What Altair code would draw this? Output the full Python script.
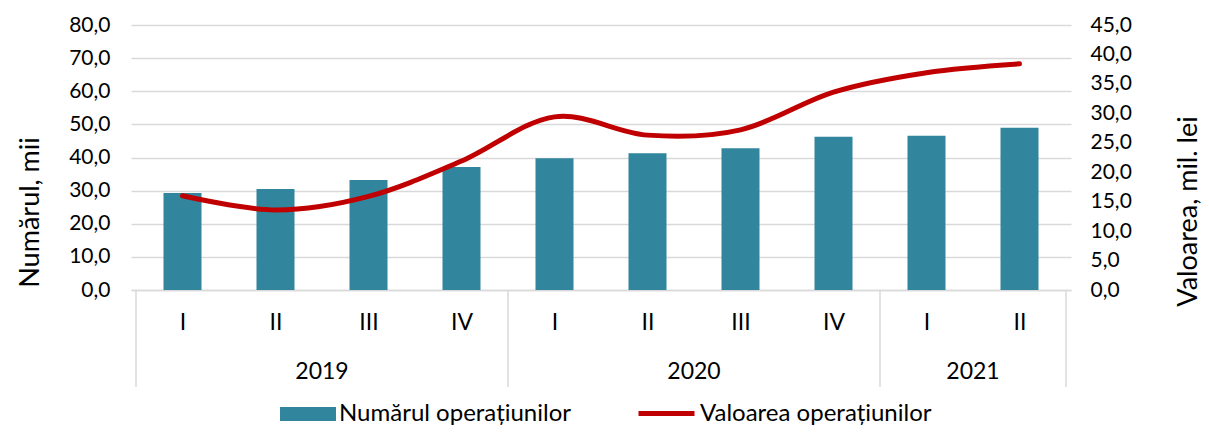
import altair as alt
import pandas as pd

quarters = ["I", "II", "III", "IV", "I", "II", "III", "IV", "I", "II"]
years = ["2019", "2019", "2019", "2019", "2020", "2020", "2020", "2020", "2021", "2021"]
numarul = [29.3, 30.5, 33.2, 37.1, 39.8, 41.3, 42.8, 46.3, 46.6, 49.0]
valoarea = [16.0, 13.6, 15.9, 21.9, 29.4, 26.3, 27.2, 33.6, 36.9, 38.4]

year_names = ["2019", "2020", "2021"]
year_first = [0, 4, 8]
year_last = [3, 7, 9]

S_BAR = "Numărul operațiunilor"
S_LINE = "Valoarea operațiunilor"
TEAL = "#31859C"
RED = "#C00000"
FONT = "Lato"

idx = list(range(len(quarters)))
df = pd.DataFrame({"i": idx, "q": quarters, "year": years,
                   "num": numarul, "val": valoarea})
df["sb"] = S_BAR
df["sl"] = S_LINE

ydf = pd.DataFrame({"year": year_names,
                    "mid": [(a + b) / 2 for a, b in zip(year_first, year_last)]})
sep = sorted(set([f - 0.5 for f in year_first] + [year_last[-1] + 0.5]))
sdf = pd.DataFrame({"b": sep})

xscale = alt.Scale(domain=[-0.5, len(quarters) - 0.5], nice=False, zero=False)

qlab = "[" + ",".join("'%s'" % q for q in quarters) + "][datum.value]"

x_axis = alt.Axis(values=idx, labelExpr=qlab, ticks=False, grid=False,
                  domainColor="#d9d9d9", domainWidth=1.5, labelPadding=21,
                  labelFont=FONT, labelFontSize=23, labelColor="#000",
                  title=None)

leg_common = dict(orient="none", direction="horizontal", title=None,
                  labelFont=FONT, labelFontSize=24, labelColor="#000",
                  labelLimit=0, symbolSize=3136, labelOffset=3, padding=0)

bar_legend = alt.Legend(legendX=149, legendY=361,
                        symbolType="M-1,-0.25L1,-0.25L1,0.25L-1,0.25Z",
                        symbolStrokeWidth=0, symbolOpacity=1, **leg_common)
line_legend = alt.Legend(legendX=505, legendY=358, symbolType="M-1,0L1,0",
                         symbolStrokeWidth=5, symbolOpacity=1, **leg_common)

bars = alt.Chart(df).mark_bar(size=38).encode(
    x=alt.X("i:Q", scale=xscale, axis=x_axis),
    y=alt.Y("num:Q", scale=alt.Scale(domain=[0, 80], nice=False),
            axis=alt.Axis(values=list(range(0, 81, 10)),
                          labelExpr="replace(format(datum.value, '.1f'), '.', ',')",
                          ticks=False, domain=False, gridColor="#d9d9d9",
                          gridWidth=1.5, labelPadding=21, labelFont=FONT,
                          labelFontSize=21, labelColor="#000",
                          title="Numărul, mii", titleFont=FONT, titleFontSize=27,
                          titleFontWeight="normal", titleColor="#000",
                          titleAngle=270, titleAlign="center", titleBaseline="middle",
                          titleX=-101, titleY=187)),
    fill=alt.Fill("sb:N", scale=alt.Scale(domain=[S_BAR], range=[TEAL]),
                  legend=bar_legend),
)

line = alt.Chart(df).mark_line(interpolate="cardinal", strokeWidth=5,
                               strokeCap="round").encode(
    x=alt.X("i:Q", scale=xscale),
    y=alt.Y("val:Q", scale=alt.Scale(domain=[0, 45], nice=False),
            axis=alt.Axis(orient="right", values=list(range(0, 46, 5)),
                          labelExpr="replace(format(datum.value, '.1f'), '.', ',')",
                          ticks=False, domain=False, grid=False, labelPadding=19,
                          labelFont=FONT, labelFontSize=21, labelColor="#000",
                          title="Valoarea, mil. lei", titleFont=FONT,
                          titleFontSize=27, titleFontWeight="normal",
                          titleColor="#000", titleAngle=270, titleAlign="center",
                          titleBaseline="middle", titleX=117, titleY=186)),
    stroke=alt.Stroke("sl:N", scale=alt.Scale(domain=[S_LINE], range=[RED]),
                      legend=line_legend),
)

year_text = alt.Chart(ydf).mark_text(font=FONT, fontSize=23, color="#000",
                                     baseline="middle").encode(
    x=alt.X("mid:Q", scale=xscale),
    y=alt.value(347),
    text="year:N",
)

seps = alt.Chart(sdf).mark_rule(color="#d9d9d9", strokeWidth=1.5).encode(
    x=alt.X("b:Q", scale=xscale),
    y=alt.value(265),
    y2=alt.value(362),
)

chart = alt.layer(bars, line, seps, year_text).resolve_scale(
    y="independent"
).properties(
    width=940, height=265,
    padding={"left": 123, "top": 17, "right": 130, "bottom": 138},
    autosize=alt.AutoSizeParams(type="none"),
).configure_view(stroke=None)

chart.save("out.html", embed_options={"renderer": "svg", "actions": False})
